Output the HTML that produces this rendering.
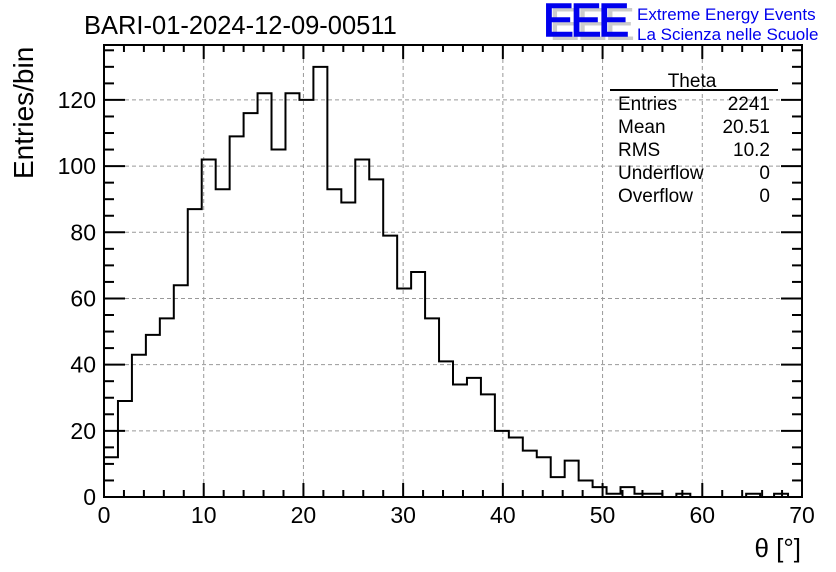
<!DOCTYPE html>
<html><head><meta charset="utf-8"><style>
html,body{margin:0;padding:0;background:#fff;}
svg{display:block;font-family:"Liberation Sans",sans-serif;}
</style></head><body>
<svg id="chart" width="836" height="572" viewBox="0 0 836 572">
<text x="84" y="34" font-size="25.5">BARI-01-2024-12-09-00511</text>
<g>
<text x="549" y="40" font-size="46" fill="#ccc" letter-spacing="-3" transform="scale(1,1)">EEE</text>
<text x="543" y="36" font-size="46" fill="#0000ee" letter-spacing="-3" stroke="#0000ee" stroke-width="1.5">EEE</text>
<text x="637" y="20" font-size="17" fill="#0000ee">Extreme Energy Events</text>
<text x="637" y="40" font-size="17" fill="#0000ee">La Scienza nelle Scuole</text>
</g>
<g id="grid"></g>
<g id="ticks"></g>
<path id="hist" fill="none" stroke="#000" stroke-width="2"/>
<rect x="104" y="45" width="698" height="452" fill="none" stroke="#000" stroke-width="2"/>
<g id="labels"></g>
<text transform="translate(33,179) rotate(-90)" font-size="28">Entries/bin</text>
<text x="801" y="557" font-size="26" text-anchor="end">θ [°]</text>
<g font-size="19">
<text x="692" y="87" text-anchor="middle">Theta</text>
<line x1="610" y1="90" x2="778" y2="90" stroke="#000" stroke-width="2"/>
<text x="618" y="110">Entries</text><text x="770" y="110" text-anchor="end">2241</text>
<text x="618" y="133">Mean</text><text x="770" y="133" text-anchor="end">20.51</text>
<text x="618" y="156">RMS</text><text x="770" y="156" text-anchor="end">10.2</text>
<text x="618" y="179">Underflow</text><text x="770" y="179" text-anchor="end">0</text>
<text x="618" y="202">Overflow</text><text x="770" y="202" text-anchor="end">0</text>
</g>
</svg>
<script>
const binCounts=[12,29,43,49,54,64,87,102,93,109,116,122,105,122,120,130,93,89,102,96,79,63,68,54,41,34,36,31,20,18,14,12,6,11,5,3,1,3,1,1,0,1,0,0,0,0,1,0,1,0];
const xTickLabels=[0,10,20,30,40,50,60,70];
const yTickLabels=[0,20,40,60,80,100,120];
const xMin=0,xMax=70,yMin=0,yMax=136.6;
const L=104,R=802,T=45,B=497;
const sx=v=>L+(v-xMin)/(xMax-xMin)*(R-L);
const sy=v=>B-(v-yMin)/(yMax-yMin)*(B-T);
const NS="http://www.w3.org/2000/svg";
function mk(tag,attrs,parent){const e=document.createElementNS(NS,tag);for(const k in attrs)e.setAttribute(k,attrs[k]);parent.appendChild(e);return e;}
const grid=document.getElementById('grid'),ticks=document.getElementById('ticks'),labels=document.getElementById('labels');
const bw=(xMax-xMin)/binCounts.length;
let d='M'+sx(0)+','+sy(0);
binCounts.forEach((c,i)=>{d+=' L'+sx(i*bw)+','+sy(c)+' L'+sx((i+1)*bw)+','+sy(c);});
d+=' L'+sx(xMax)+','+sy(0);
document.getElementById('hist').setAttribute('d',d);
xTickLabels.forEach(v=>{
  const x=sx(v);
  if(v>xMin&&v<xMax){const g=mk('line',{x1:x,x2:x,y1:T,y2:B,stroke:'#999','stroke-dasharray':'4,3','stroke-width':1},grid);
  
  }
  const t=mk('text',{x:x,y:523,'font-size':23,'text-anchor':'middle'},labels);t.textContent=v;
  
  
});
yTickLabels.forEach(v=>{
  const y=sy(v);
  if(v>yMin){const g=mk('line',{x1:L,x2:R,y1:y,y2:y,stroke:'#999','stroke-dasharray':'4,3','stroke-width':1},grid);
  
  }
  const t=mk('text',{x:96,y:y+8,'font-size':23,'text-anchor':'end'},labels);t.textContent=v;
  
  
});
for(let v=xMin;v<=xMax;v+=2){const x=sx(v),m=(v%10===0);const len=m?14:7;
  mk('line',{x1:x,x2:x,y1:B,y2:B-len,stroke:'#000','stroke-width':2},ticks);
  mk('line',{x1:x,x2:x,y1:T,y2:T+len,stroke:'#000','stroke-width':2},ticks);}
for(let v=yMin;v<=yMax;v+=5){const y=sy(v),m=(v%20===0);const len=m?21:10;
  mk('line',{x1:L,x2:L+len,y1:y,y2:y,stroke:'#000','stroke-width':2},ticks);
  mk('line',{x1:R,x2:R-len,y1:y,y2:y,stroke:'#000','stroke-width':2},ticks);}
</script>
</body></html>
